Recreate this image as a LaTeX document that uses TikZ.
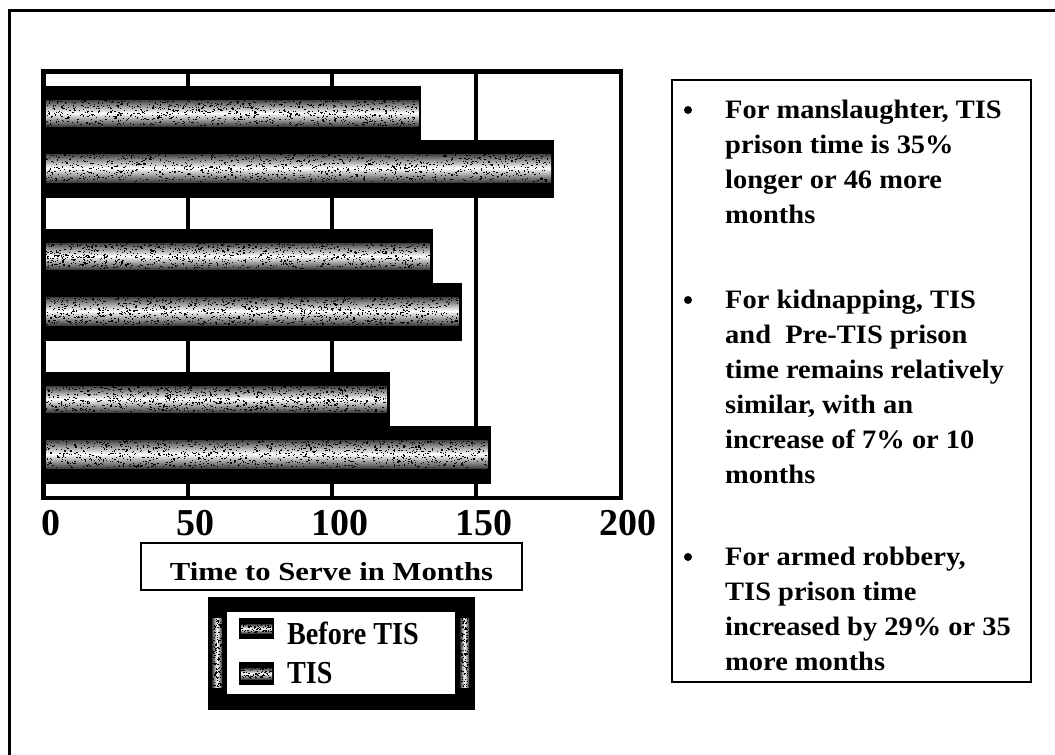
\documentclass[tikz,border=0pt]{standalone}
\usepackage{fontspec}
\setmainfont{Liberation Serif}
\newfontfamily\widefont{Liberation Serif}[FakeStretch=1.07]
\newfontfamily\titlefont{Liberation Serif}[FakeStretch=1.18]
\newfontfamily\narrowfont{Liberation Serif}[FakeStretch=0.88]

% grainy halftone band: [shading]{x1}{y1}{x2}{y2}{number of specks}
\newcommand\grainband[6][top color=black!75,bottom color=black!75,middle color=white]{%
  \shade[#1] (#2,#3) rectangle (#4,#5);
  \foreach \k in {1,...,#6}{%
    \pgfmathsetmacro\gx{#2+rnd*(#4-#2-1.3)}%
    \pgfmathsetmacro\gy{#3+rnd*(#5-#3-1.1)}%
    \fill[black] (\gx,\gy) rectangle ++(1.3,1.1);
  }%
}

\begin{document}
\begin{tikzpicture}[x=1pt,y=-1pt,
  txt/.style={anchor=base west,inner sep=0pt,font=\widefont\bfseries\fontsize{26.6}{35}\selectfont},
  ticklabel/.style={anchor=base,inner sep=0pt,font=\bfseries\fontsize{38}{38}\selectfont},
  legtxt/.style={anchor=base west,inner sep=0pt,font=\narrowfont\bfseries\fontsize{32}{32}\selectfont},
  frameline/.style={line width=4.5pt},
  gridline/.style={line width=4pt}]
\pgfmathsetseed{11}
\useasboundingbox (0,0) rectangle (1055,755);
\fill[white] (0,0) rectangle (1055,755);

% page frame
\draw[line width=3pt] (9,755) -- (9,10) -- (1055,10);

% value grid lines
\foreach \v in {50,100,150}
  \draw[gridline] ({43.2+2.886*\v},71) -- ({43.2+2.886*\v},498);

% bars: group top / before value / TIS value
\foreach \gy/\bv/\tv in {86/131/177, 229/135/145, 372/120/155}{
  \pgfmathsetmacro\bx{43.2+2.886*\bv}
  \pgfmathsetmacro\tx{43.2+2.886*\tv}
  \pgfmathsetmacro\ya{\gy+54}
  \pgfmathsetmacro\yb{\gy+112}
  \fill[black] (43,\gy) rectangle (\bx,\ya);
  \fill[black] (43,\ya) rectangle (\tx,\yb);
  \pgfmathsetmacro\ba{\gy+14}
  \pgfmathsetmacro\bb{\gy+40}
  \pgfmathsetmacro\bxe{\bx-3}
  \grainband{45}{\ba}{\bxe}{\bb}{900}
  \pgfmathsetmacro\ta{\ya+14}
  \pgfmathsetmacro\tb{\ya+42}
  \pgfmathsetmacro\txe{\tx-3}
  \grainband{45}{\ta}{\txe}{\tb}{1100}
}

% chart frame
\draw[frameline] (43.5,71.5) rectangle (620.8,498);

% tick labels
\foreach \v in {0,50,100,150,200}
  \node[ticklabel] (tick\v) at ({43.2+2.886*\v+8},535) {\v};

% axis title
\draw[line width=1.6pt] (141,543) rectangle (522,590);
\node[anchor=base,inner sep=0pt,font=\titlefont\bfseries\fontsize{26}{26}\selectfont]
  (axistitle) at (331.5,580) {Time to Serve in Months};

% legend
\fill[black] (208,597) rectangle (475,710);
\fill[white] (227,612) rectangle (455,694);
\grainband[left color=black!80,right color=black!80,middle color=white]{212}{618}{222}{687}{110}
\grainband[left color=black!80,right color=black!80,middle color=white]{460}{618}{469}{687}{110}
\fill[black] (239,618) rectangle (274,639);
\grainband{241}{624}{272}{633}{60}
\fill[black] (239,662) rectangle (274,685);
\grainband{241}{668}{272}{679}{70}
\node[legtxt] (legbefore) at (287,644) {Before TIS};
\node[legtxt] (legtis) at (287,683) {TIS};

% findings box
\draw[line width=2.5pt] (672,80) rectangle (1031,682);
\foreach \b in {118,308,565}
  \fill[black] (688,\b-8) circle (4);
\node[txt] (m1) at (725,118) {For manslaughter, TIS};
\node[txt] (m2) at (725,153) {prison time is 35\%};
\node[txt] (m3) at (725,188) {longer or 46 more};
\node[txt] (m4) at (725,223) {months};
\node[txt] (k1) at (725,308) {For kidnapping, TIS};
\node[txt] (k2) at (725,343) {and\ \ Pre-TIS prison};
\node[txt] (k3) at (725,378) {time remains relatively};
\node[txt] (k4) at (725,413) {similar, with an};
\node[txt] (k5) at (725,448) {increase of 7\% or 10};
\node[txt] (k6) at (725,483) {months};
\node[txt] (r1) at (725,565) {For armed robbery,};
\node[txt] (r2) at (725,600) {TIS prison time};
\node[txt] (r3) at (725,635) {increased by 29\% or 35};
\node[txt] (r4) at (725,670) {more months};
\end{tikzpicture}
\end{document}
